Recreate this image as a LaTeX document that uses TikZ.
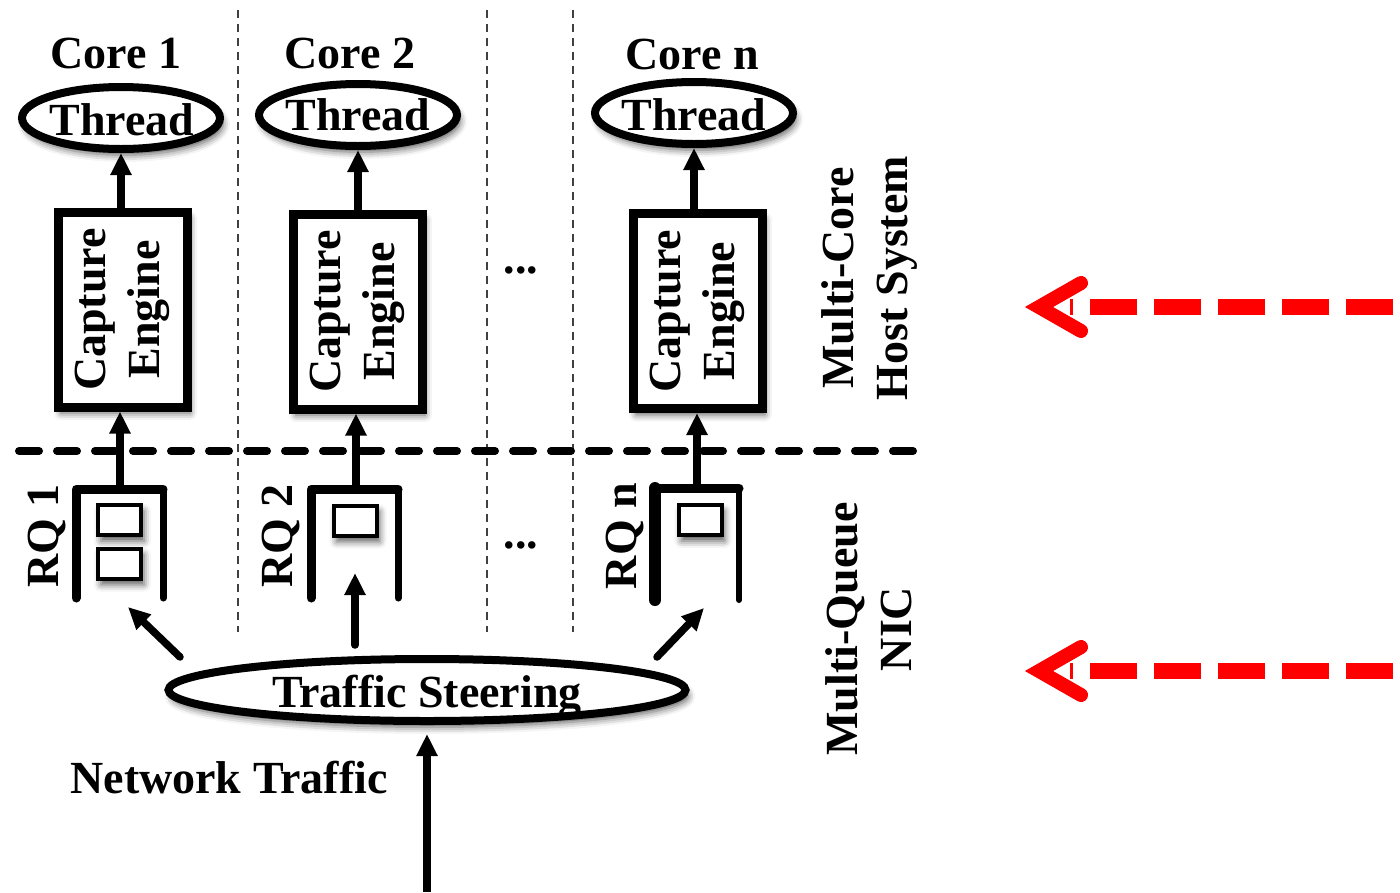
\documentclass[tikz,border=0pt]{standalone}
\usepackage{fontspec}
\setmainfont{Liberation Serif}
\usetikzlibrary{shapes.geometric,arrows.meta,shadows.blur}

\begin{document}
\begin{tikzpicture}[x=1pt,y=-1pt,
  big/.style={font=\fontsize{46}{54}\selectfont\bfseries, inner sep=0pt},
  soft/.style={blur shadow={shadow xshift=3pt, shadow yshift=-6pt,
      shadow blur radius=7pt, shadow opacity=65}},
  threadell/.style={ellipse, draw, line width=8pt, fill=white, inner sep=0pt,
      minimum width=198pt, minimum height=62pt, soft},
  cebox/.style={rectangle, draw, line width=9pt, fill=white, inner sep=0pt,
      minimum width=129pt, minimum height=195pt, soft},
  pkt/.style={rectangle, draw, line width=4pt, fill=white, inner sep=0pt,
      minimum width=43pt, minimum height=30pt, soft},
  arr/.style={line width=7.5pt, -{Triangle[length=22pt,width=20pt]}},
  coresep/.style={line width=1.3pt, black!75, dash pattern=on 8pt off 6pt},
  layersep/.style={line width=8pt, line cap=round, dash pattern=on 20pt off 18pt},
  qwall/.style={line cap=round, line join=round},
  redline/.style={red, line width=16pt, dash pattern=on 47pt off 17pt},
  redhead/.style={red, line width=14pt, line cap=round, line join=miter}
]
\useasboundingbox (0,0) rectangle (1400,892);

% core separators and host/NIC boundary
\draw[coresep] (238,10) -- (238,632);
\draw[coresep] (487,10) -- (487,632);
\draw[coresep] (573,10) -- (573,632);
\draw[layersep] (19,451) -- (921,451);

% core labels
\node[big, anchor=base] (c1) at (116,68) {Core 1};
\node[big, anchor=base] (c2) at (350,68) {Core 2};
\node[big, anchor=base] (cn) at (692,69) {Core n};

% threads
\node[threadell] (t1) at (121,118) {};
\node[threadell] (t2) at (358,115) {};
\node[threadell] (tn) at (694,113) {};
\node[big, anchor=base] (t1l) at (122,135) {Thread};
\node[big, anchor=base] (t2l) at (358,130) {Thread};
\node[big, anchor=base] (tnl) at (694,130) {Thread};

% capture engines
\node[cebox] (ce1) at (122.5,309.5) {};
\node[cebox] (ce2) at (357.5,311.5) {};
\node[cebox] (cen) at (697.5,311) {};
\node[big, rotate=90, align=center] (ce1l) at (ce1) {Capture\\Engine};
\node[big, rotate=90, align=center] (ce2l) at (ce2) {Capture\\Engine};
\node[big, rotate=90, align=center] (cenl) at (cen) {Capture\\Engine};

\draw[arr] (ce1.north -| t1.south) -- (t1.south);
\draw[arr] (ce2.north -| t2.south) -- (t2.south);
\draw[arr] (cen.north -| tn.south) -- (tn.south);

% receive queues
\coordinate (q1) at (120,489);
\coordinate (q2) at (356,489);
\coordinate (qn) at (697,488);
\draw[qwall, line width=9pt] (76,598) -- (76,489) -- (163,489);
\draw[qwall, line width=7pt] (163,489) -- (163,598);
\draw[qwall, line width=9pt] (311,598) -- (311,489) -- (398,489);
\draw[qwall, line width=7pt] (398,489) -- (398,598);
\draw[qwall, line width=12pt] (655,600) -- (655,488);
\draw[qwall, line width=9pt] (655,488) -- (739,488);
\draw[qwall, line width=6pt] (739,488) -- (739,600);

\node[pkt] (p11) at (119.5,520) {};
\node[pkt] (p12) at (119.5,563.5) {};
\node[pkt] (p21) at (355,520.5) {};
\node[pkt] (pn1) at (700,520) {};

\node[big, rotate=90] (rq1) at (47,536) {RQ 1};
\node[big, rotate=90] (rq2) at (281,536) {RQ 2};
\node[big, rotate=90] (rqn) at (625,536) {RQ n};

\draw[arr] (q1) -- (q1 |- ce1.south);
\draw[arr] (q2) -- (q2 |- ce2.south);
\draw[arr] (qn) -- (qn |- cen.south);

% ellipsis between cores
\node[big] (dots1) at (521,270) {...};
\node[big] (dots2) at (521,545) {...};

% traffic steering
\node[ellipse, draw, line width=8pt, fill=white, inner sep=0pt,
      minimum width=517pt, minimum height=62pt, soft] (ts) at (427,690) {};
\node[big, anchor=base] (tsl) at (427,707) {Traffic Steering};

\coordinate (s1) at (180,657);
\coordinate (e1) at (128,607);
\coordinate (s2) at (355,645);
\coordinate (e2) at (355,573);
\coordinate (sn) at (657,657);
\coordinate (en) at (704,608);
\draw[arr, line cap=round] (s1) -- (e1);
\draw[arr, line cap=round] (s2) -- (e2);
\draw[arr, line cap=round] (sn) -- (en);

% incoming traffic
\node[big, anchor=base] (nt) at (229,793) {Network Traffic};
\coordinate (in) at (427,892);
\draw[arr, shorten >=9pt] (in) -- (ts.south);

% layer labels
\node[big, rotate=90, align=center] (host) at (869,278) {Multi-Core\\Host System};
\node[big, rotate=90, align=center] (nic) at (869,629) {Multi-Queue\\NIC};

% red pointers
\coordinate (r1s) at (1393,307);
\coordinate (r1e) at (1070,307);
\coordinate (r1t) at (1039,307);
\draw[redline] (r1s) -- (r1e);
\draw[redhead] (1081,283) -- (r1t) -- (1081,331);

\coordinate (r2s) at (1393,671);
\coordinate (r2e) at (1070,671);
\coordinate (r2t) at (1039,671);
\draw[redline] (r2s) -- (r2e);
\draw[redhead] (1081,647) -- (r2t) -- (1081,695);
\end{tikzpicture}
\end{document}
